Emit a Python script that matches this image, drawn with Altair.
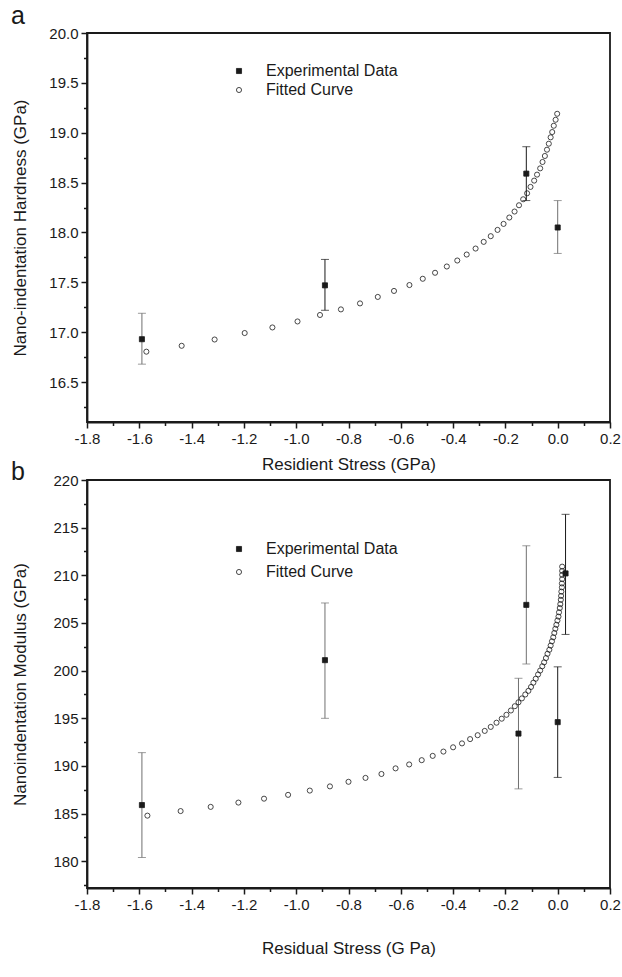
import altair as alt
import pandas as pd

FONT = "Liberation Sans"
INK = "#1a1a1a"
GRAY = "#707070"

SERIES = ["Experimental Data", "Fitted Curve"]

# ---------------- panel a : hardness ----------------
a_exp_x = [-1.59, -0.89, -0.12, 0.00]
a_exp_y = [16.93, 17.47, 18.59, 18.05]
a_exp_lo = [16.68, 17.22, 18.32, 17.79]
a_exp_hi = [17.19, 17.73, 18.86, 18.32]
a_exp_shade = [GRAY, INK, INK, GRAY]

a_fit_x = [-1.573, -1.438, -1.312, -1.197, -1.091, -0.995, -0.909, -0.829, -0.756, -0.688,
           -0.626, -0.567, -0.516, -0.469, -0.424, -0.384, -0.348, -0.314, -0.283, -0.256,
           -0.230, -0.207, -0.185, -0.165, -0.148, -0.132, -0.117, -0.104, -0.090, -0.079,
           -0.067, -0.058, -0.049, -0.041, -0.034, -0.027, -0.021, -0.015, -0.008, -0.002]
a_fit_y = [16.805, 16.864, 16.927, 16.992, 17.048, 17.108, 17.173, 17.229, 17.289, 17.354,
           17.414, 17.473, 17.536, 17.596, 17.659, 17.719, 17.779, 17.839, 17.906, 17.963,
           18.026, 18.086, 18.150, 18.210, 18.273, 18.333, 18.393, 18.457, 18.520, 18.580,
           18.643, 18.707, 18.767, 18.830, 18.890, 18.954, 19.007, 19.070, 19.130, 19.190]

a_y_ticks = [16.25, 16.5, 16.75, 17.0, 17.25, 17.5, 17.75, 18.0, 18.25, 18.5, 18.75,
             19.0, 19.25, 19.5, 19.75, 20.0]

# ---------------- panel b : modulus ----------------
b_exp_x = [-1.59, -0.89, -0.15, -0.12, 0.00, 0.03]
b_exp_y = [185.9, 201.1, 193.4, 206.9, 194.6, 210.2]
b_exp_lo = [180.4, 195.0, 187.6, 200.7, 188.8, 203.8]
b_exp_hi = [191.4, 207.1, 199.2, 213.1, 200.4, 216.4]
b_exp_shade = [GRAY, GRAY, GRAY, GRAY, INK, INK]

b_fit_x = [-1.569, -1.442, -1.327, -1.221, -1.123, -1.031, -0.948, -0.871, -0.800, -0.735,
           -0.674, -0.620, -0.568, -0.520, -0.478, -0.437, -0.400, -0.366, -0.335, -0.306,
           -0.279, -0.256, -0.234, -0.214, -0.196, -0.179, -0.164, -0.150, -0.137, -0.124,
           -0.112, -0.102, -0.093, -0.084, -0.075, -0.067, -0.059, -0.052, -0.045, -0.039,
           -0.032, -0.027, -0.022, -0.017, -0.013, -0.009, -0.005, -0.001, 0.003, 0.005,
           0.008, 0.010, 0.012, 0.013, 0.014, 0.016, 0.016, 0.017, 0.017, 0.017, 0.017]
b_fit_y = [184.79, 185.27, 185.71, 186.16, 186.57, 186.97, 187.42, 187.86, 188.34, 188.75,
           189.16, 189.75, 190.16, 190.61, 191.06, 191.51, 191.96, 192.37, 192.82, 193.23,
           193.68, 194.10, 194.54, 194.96, 195.37, 195.82, 196.27, 196.68, 197.09, 197.50,
           197.88, 198.29, 198.74, 199.15, 199.60, 200.01, 200.46, 200.87, 201.32, 201.77,
           202.19, 202.63, 203.08, 203.50, 203.95, 204.39, 204.81, 205.26, 205.67, 206.12,
           206.57, 206.98, 207.43, 207.84, 208.29, 208.74, 209.15, 209.60, 210.05, 210.46, 210.91]

b_y_ticks = [177.5, 180, 182.5, 185, 187.5, 190, 192.5, 195, 197.5, 200, 202.5, 205,
             207.5, 210, 212.5, 215, 217.5, 220]

x_ticks = [-1.8, -1.7, -1.6, -1.5, -1.4, -1.3, -1.2, -1.1, -1.0, -0.9, -0.8, -0.7, -0.6,
           -0.5, -0.4, -0.3, -0.2, -0.1, 0.0, 0.1, 0.2]

panel_letters = ["a", "b"]

X_MINOR = "round(datum.value*10) % 2 != 0"
X_LABEL = ("(" + X_MINOR + ") ? '' : (datum.value < -0.001 ? '-' : '') + "
           "format(abs(datum.value), '.1f')")


def make_axis(title, values, minor_test, label_expr, title_pad):
    return alt.Axis(
        title=title, values=values, labelExpr=label_expr,
        tickSize={"condition": {"test": minor_test, "value": 3.5}, "value": 6},
        labelFlush=False, labelOverlap=False, labelBound=False,
        titlePadding=title_pad, grid=False,
        domainColor=INK, domainWidth=1.8, tickColor=INK, tickWidth=1.5,
        labelFont=FONT, labelFontSize=15, labelColor=INK, labelPadding=3,
        titleFont=FONT, titleFontSize=17, titleFontWeight="normal", titleColor=INK,
    )


def letter_layer(letter, y_px, baseline):
    return alt.Chart(pd.DataFrame({"t": [letter]})).mark_text(
        font=FONT, fontSize=25, color=INK, align="left", baseline=baseline
    ).encode(text="t:N", x=alt.value(-76), y=alt.value(y_px))


def make_panel(exp_x, exp_y, lo, hi, shade, fit_x, fit_y, ydom, yticks, ytest, ylabel,
               ytitle, xtitle, ytitle_pad, xtitle_pad, height, leg_x, leg_y, leg_row,
               extra):
    exp = pd.DataFrame({"x": exp_x, "y": exp_y, "lo": lo, "hi": hi, "shade": shade})
    pts = pd.DataFrame({
        "x": fit_x + exp_x,
        "y": fit_y + exp_y,
        "series": [SERIES[1]] * len(fit_x) + [SERIES[0]] * len(exp_x),
    })
    xs = alt.Scale(domain=[-1.8, 0.2], nice=False, zero=False)
    ys = alt.Scale(domain=ydom, nice=False, zero=False)
    xax = make_axis(xtitle, x_ticks, X_MINOR, X_LABEL, xtitle_pad)
    yax = make_axis(ytitle, yticks, ytest, ylabel, ytitle_pad)
    X = alt.X("x:Q", scale=xs, axis=xax)

    rules = alt.Chart(exp).mark_rule(strokeWidth=1).encode(
        x=X, y=alt.Y("lo:Q", scale=ys, axis=yax), y2="hi:Q",
        color=alt.Color("shade:N", scale=None))
    cap_lo = alt.Chart(exp).mark_tick(orient="horizontal", size=8, thickness=1).encode(
        x=X, y=alt.Y("lo:Q", scale=ys, axis=yax), color=alt.Color("shade:N", scale=None))
    cap_hi = alt.Chart(exp).mark_tick(orient="horizontal", size=8, thickness=1).encode(
        x=X, y=alt.Y("hi:Q", scale=ys, axis=yax), color=alt.Color("shade:N", scale=None))

    leg = alt.Legend(title=None, orient="none", legendX=leg_x, legendY=leg_y,
                     labelFontSize=16, labelFont=FONT, labelColor=INK,
                     symbolSize=26, symbolStrokeWidth=0.8,
                     rowPadding=leg_row, labelOffset=19, padding=0)
    points = alt.Chart(pts).mark_point(filled=True, size=26, strokeWidth=0.8,
                                       opacity=1).encode(
        x=X, y=alt.Y("y:Q", scale=ys, axis=yax),
        shape=alt.Shape("series:N", scale=alt.Scale(domain=SERIES, range=["square", "circle"]),
                        legend=leg),
        fill=alt.Fill("series:N", scale=alt.Scale(domain=SERIES, range=[INK, "transparent"]),
                      legend=leg),
        stroke=alt.Stroke("series:N", scale=alt.Scale(domain=SERIES, range=[INK, INK]),
                          legend=leg),
    )
    return alt.layer(rules, cap_lo, cap_hi, points, *extra).properties(
        width=523, height=height)


TOP_H = 389
BOT_H = 408

top = make_panel(a_exp_x, a_exp_y, a_exp_lo, a_exp_hi, a_exp_shade, a_fit_x, a_fit_y,
                 [16.1, 20.0], a_y_ticks, "round(datum.value*4) % 2 != 0",
                 "(round(datum.value*4) % 2 != 0) ? '' : format(datum.value, '.1f')",
                 "Nano-indentation Hardness (GPa)", "Residient Stress (GPa)", 19, 10,
                 TOP_H, 144, 30, 3,
                 [letter_layer(panel_letters[0], -9, "alphabetic")])

bottom = make_panel(b_exp_x, b_exp_y, b_exp_lo, b_exp_hi, b_exp_shade, b_fit_x, b_fit_y,
                    [177.2, 220], b_y_ticks, "round(datum.value*2) % 10 != 0",
                    "(round(datum.value*2) % 10 != 0) ? '' : format(datum.value, '.0f')",
                    "Nanoindentation Modulus (GPa)", "Residual Stress (G Pa)", 23, 28,
                    BOT_H, 144, 61, 7,
                    [letter_layer(panel_letters[1], 0, "alphabetic")])

chart = alt.vconcat(top, bottom, spacing=58, bounds="flush").resolve_scale(
    shape="independent", fill="independent", stroke="independent"
).resolve_legend(
    shape="independent", fill="independent", stroke="independent"
).properties(
    padding={"left": 10, "top": 3, "right": 0, "bottom": 5},
    background="white",
).configure_view(
    stroke=INK, strokeWidth=1.8
)

chart.save("out.html", embed_options={"renderer": "svg", "actions": False})
